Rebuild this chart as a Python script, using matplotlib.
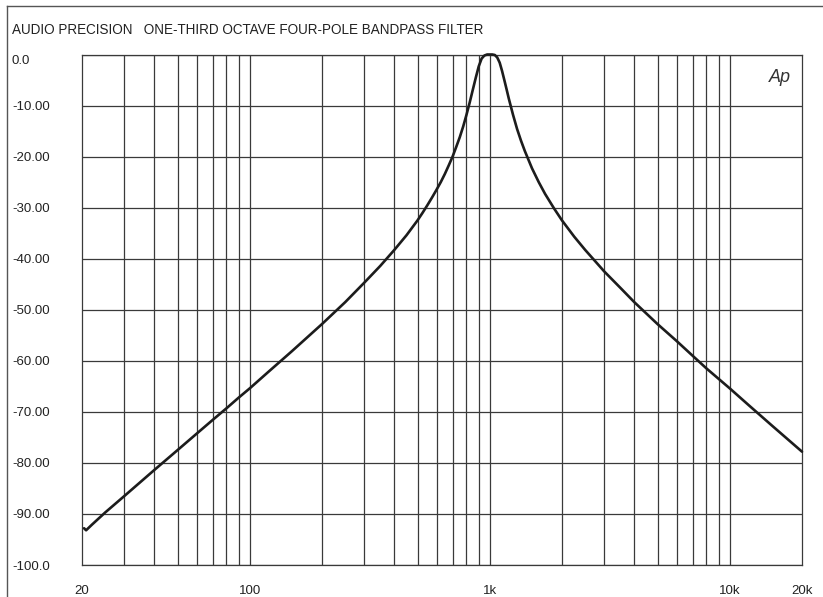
import matplotlib
matplotlib.use("Agg")
import matplotlib.pyplot as plt
from matplotlib.lines import Line2D

plt.rcParams['font.family'] = ['Liberation Sans', 'DejaVu Sans']

title = "AUDIO PRECISION   ONE-THIRD OCTAVE FOUR-POLE BANDPASS FILTER"

freq_hz = [20.4, 20.8, 22, 25, 30, 40, 50, 60, 70, 80, 90, 100, 120, 150, 200,
           250, 300, 350, 400, 450, 500, 525, 550, 575, 600, 625, 650, 675, 700,
           725, 750, 775, 800, 825, 850, 875, 900, 925, 950, 975, 1000, 1025,
           1050, 1075, 1100, 1125, 1150, 1175, 1200, 1250, 1300, 1350, 1400,
           1500, 1600, 1700, 1850, 2000, 2250, 2500, 3000, 3500, 4000, 5000,
           6000, 7000, 8000, 10000, 12000, 15000, 20000]
level_db = [-92.8, -93.2, -92.1, -89.7, -86.5, -81.4, -77.5, -74.3, -71.6, -69.3,
            -67.2, -65.4, -62.1, -58.1, -52.8, -48.5, -44.7, -41.4, -38.3, -35.4,
            -32.5, -31.0, -29.5, -28.0, -26.5, -25.0, -23.4, -21.7, -20.0,
            -18.1, -16.2, -14.1, -11.8, -9.4, -6.9, -4.5, -2.3, -0.8, -0.2, 0.0,
            0.0, 0.0, -0.1, -0.6, -1.6, -3.2, -5.0, -6.8, -8.6, -11.8, -14.6,
            -16.9, -18.9, -22.3, -25.0, -27.3, -30.1, -32.5, -35.7, -38.3, -42.5,
            -45.7, -48.5, -52.8, -56.1, -59.0, -61.5, -65.4, -68.7, -72.7, -77.8]

y_ticks = [0, -10, -20, -30, -40, -50, -60, -70, -80, -90, -100]
y_labels = ["0.0", "-10.00", "-20.00", "-30.00", "-40.00", "-50.00", "-60.00",
            "-70.00", "-80.00", "-90.00", "-100.0"]
x_grid = [30, 40, 50, 60, 70, 80, 90, 100, 200, 300, 400, 500, 600, 700, 800,
          900, 1000, 2000, 3000, 4000, 5000, 6000, 7000, 8000, 9000, 10000]
x_label_pos = [20, 100, 1000, 10000, 20000]
x_labels = ["20", "100", "1k", "10k", "20k"]

W, H = 823, 597
fig = plt.figure(figsize=(W / 100, H / 100), dpi=100)
ax = fig.add_axes([82 / W, 1 - 565 / H, (802 - 82) / W, (565 - 54.5) / H])

gcol = '#3a3a3a'
ax.set_xscale('log')
ax.set_xlim(20, 20000)
ax.set_ylim(-100, 0)
for f in x_grid:
    ax.axvline(f, color=gcol, lw=0.9, zorder=1)
for y in y_ticks:
    ax.axhline(y, color=gcol, lw=0.9, zorder=1)
for s in ax.spines.values():
    s.set_color(gcol)
    s.set_linewidth(0.9)

ax.plot(freq_hz, level_db, color='#1c1c1c', lw=1.9, zorder=3, clip_on=False,
        solid_joinstyle='round', solid_capstyle='round')

ax.set_yticks(y_ticks)
ax.set_yticklabels(y_labels, ha='left', fontsize=9.5, color='#222')
ax.tick_params(axis='y', length=0, pad=50.4)
ax.get_yticklabels()[0].set_va('top')
ax.set_xticks(x_label_pos)
ax.set_xticklabels(x_labels, fontsize=9.5, color='#222')
ax.xaxis.set_minor_locator(matplotlib.ticker.NullLocator())
ax.tick_params(axis='x', length=0, pad=14.5)

fig.text(12 / W, 1 - 30 / H, title, fontsize=9.75, color='#222', ha='left', va='center')
ax.text(0.985, 0.955, "Ap", transform=ax.transAxes, fontsize=13, fontstyle='italic',
        fontweight='light', color='#333', ha='right', va='center')

fig.add_artist(Line2D([7 / W, 1.0], [1 - 6 / H, 1 - 6 / H], color='#555', lw=1.0))
fig.add_artist(Line2D([7 / W, 7 / W], [0, 1 - 6 / H], color='#555', lw=1.0))

fig.savefig("out.png", dpi=100, facecolor='white')
